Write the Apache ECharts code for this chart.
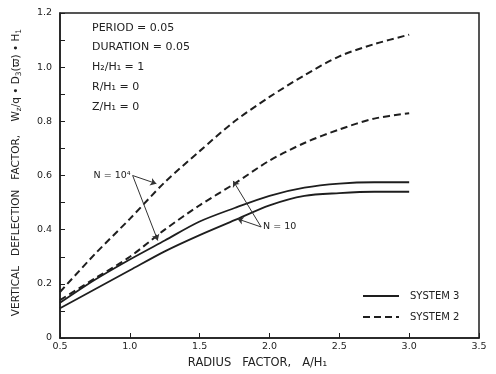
<!DOCTYPE html>
<html>
<head>
<meta charset="utf-8">
<script src="https://cdn.jsdelivr.net/npm/echarts@6/dist/echarts.min.js"></script>
<style>
html,body{margin:0;padding:0;background:#fff;}
#chart{width:496px;height:374px;}
</style>
</head>
<body>
<div id="chart"></div>
<script>
// Radius factor A/H1
const radiusFactor = [0.5, 0.75, 1.0, 1.25, 1.5, 1.75, 2.0, 2.25, 2.5, 2.75, 3.0];
// System 2 (dashed)
const sys2N1e4 = [0.17, 0.31, 0.44, 0.575, 0.69, 0.80, 0.89, 0.97, 1.04, 1.085, 1.12];
const sys2N10  = [0.14, 0.22, 0.30, 0.40, 0.49, 0.57, 0.655, 0.72, 0.77, 0.81, 0.83];
// System 3 (solid)
const sys3N1e4 = [0.13, 0.215, 0.29, 0.36, 0.43, 0.48, 0.525, 0.555, 0.57, 0.575, 0.575];
const sys3N10  = [0.11, 0.18, 0.25, 0.32, 0.38, 0.435, 0.49, 0.525, 0.535, 0.54, 0.54];

// Annotation leader lines (data coordinates)
const labelN1e4 = [1.02, 0.60];
const tipsN1e4 = [[1.19, 0.57], [1.2, 0.36]];
const labelN10 = [1.94, 0.41];
const tipsN10 = [[1.74, 0.58], [1.77, 0.44]];

const paramLines = ['PERIOD = 0.05', 'DURATION = 0.05', 'H\u2082/H\u2081 = 1', 'R/H\u2081 = 0', 'Z/H\u2081 = 0'];

const FONT = 'DejaVu Sans';
const INK = '#1e1e1e';

function pairs(ys) { return radiusFactor.map((x, i) => [x, ys[i]]); }

const chart = echarts.init(document.getElementById('chart'), null, {renderer: 'canvas'});

function leaders(from, tips) {
  return tips.map(t => [{coord: from, symbol: 'none'}, {coord: t, symbol: 'arrow'}]);
}

const option = {
  animation: false,
  backgroundColor: '#fff',
  grid: {left: 60, right: 17, top: 13, bottom: 34, show: true, borderColor: INK, borderWidth: 1.5, backgroundColor: 'transparent'},
  xAxis: {
    type: 'value', min: 0.5, max: 3.5, interval: 0.5,
    axisLine: {show: true, lineStyle: {color: INK, width: 1.5}},
    axisTick: {show: true, inside: true, length: 5, lineStyle: {color: INK}},
    splitLine: {show: false},
    axisLabel: {color: '#222', fontFamily: FONT, fontSize: 9.5, margin: 4, formatter: v => v.toFixed(1)},
    name: 'RADIUS   FACTOR,   A/H\u2081', nameLocation: 'middle', nameGap: 19,
    nameTextStyle: {color: '#222', fontFamily: FONT, fontSize: 11.5, padding: [0, 24, 0, 0]}
  },
  yAxis: {
    type: 'value', min: 0, max: 1.2, interval: 0.2,
    axisLine: {show: true, lineStyle: {color: INK, width: 1.5}},
    axisTick: {show: true, inside: true, length: 5, lineStyle: {color: INK}},
    minorTick: {show: true, splitNumber: 2, length: 5, lineStyle: {color: INK}},
    splitLine: {show: false},
    axisLabel: {color: '#222', fontFamily: FONT, fontSize: 9.5, margin: 8, formatter: v => v === 0 ? '0' : v.toFixed(1)},
    name: 'VERTICAL   DEFLECTION   FACTOR,    W{s|z}/q \u2022 D{s|3}(\u03D6) \u2022 H{s|1}',
    nameLocation: 'middle', nameGap: 37, nameRotate: 90,
    nameTextStyle: {color: '#222', fontFamily: FONT, fontSize: 10.5, padding: [0, 0, 0, 6],
      rich: {s: {fontFamily: FONT, fontSize: 7.5, color: '#222', padding: [6, 0, 0, 0]}}}
  },
  legend: {
    orient: 'vertical', left: 362, top: 289, padding: 0, itemWidth: 36, itemHeight: 14, itemGap: 7,
    data: [
      {name: 'SYSTEM 3', itemStyle: {opacity: 0}},
      {name: 'SYSTEM 2', itemStyle: {opacity: 0}}
    ],
    itemStyle: {opacity: 0},
    textStyle: {color: '#222', fontFamily: FONT, fontSize: 10, padding: [0, 0, 0, 6], lineHeight: 14},
    selectedMode: false
  },
  series: [
    {name: 'SYSTEM 3', type: 'line', data: pairs(sys3N1e4), smooth: 0.3, symbol: 'none', showSymbol: false,
      lineStyle: {color: INK, width: 1.8, type: 'solid'}, itemStyle: {color: INK}, z: 3},
    {name: 'SYSTEM 3', type: 'line', data: pairs(sys3N10), smooth: 0.3, symbol: 'none', showSymbol: false,
      lineStyle: {color: INK, width: 1.8, type: 'solid'}, itemStyle: {color: INK}, z: 3},
    {name: 'SYSTEM 2', type: 'line', data: pairs(sys2N1e4), smooth: 0.3, symbol: 'none', showSymbol: false,
      lineStyle: {color: INK, width: 2, type: [7, 4]}, itemStyle: {color: INK}, z: 3},
    {name: 'SYSTEM 2', type: 'line', data: pairs(sys2N10), smooth: 0.3, symbol: 'none', showSymbol: false,
      lineStyle: {color: INK, width: 2, type: [7, 4]}, itemStyle: {color: INK}, z: 3},
    {
      name: 'annotations', type: 'line', data: [], symbol: 'none', silent: true,
      markLine: {
        silent: true, symbolSize: 6, animation: false,
        lineStyle: {color: '#333', width: 1, type: 'solid'},
        label: {show: false},
        data: leaders(labelN1e4, tipsN1e4).concat(leaders(labelN10, tipsN10))
      },
      markPoint: {
        silent: true, symbol: 'circle', symbolSize: 0,
        data: [
          {coord: labelN1e4, label: {show: true, position: 'left', distance: 2, formatter: 'N = 10\u2074', color: '#222', fontFamily: FONT, fontSize: 9.5}},
          {coord: labelN10, label: {show: true, position: 'right', distance: 2, formatter: 'N = 10', color: '#222', fontFamily: FONT, fontSize: 9.5}}
        ]
      }
    }
  ],
  graphic: paramLines.map((t, i) => ({
    type: 'text', left: 92, top: [23, 42, 62, 82, 102][i],
    style: {text: t, fill: '#222', font: '11px "DejaVu Sans"'}
  }))
};
chart.setOption(option);
</script>
</body>
</html>
